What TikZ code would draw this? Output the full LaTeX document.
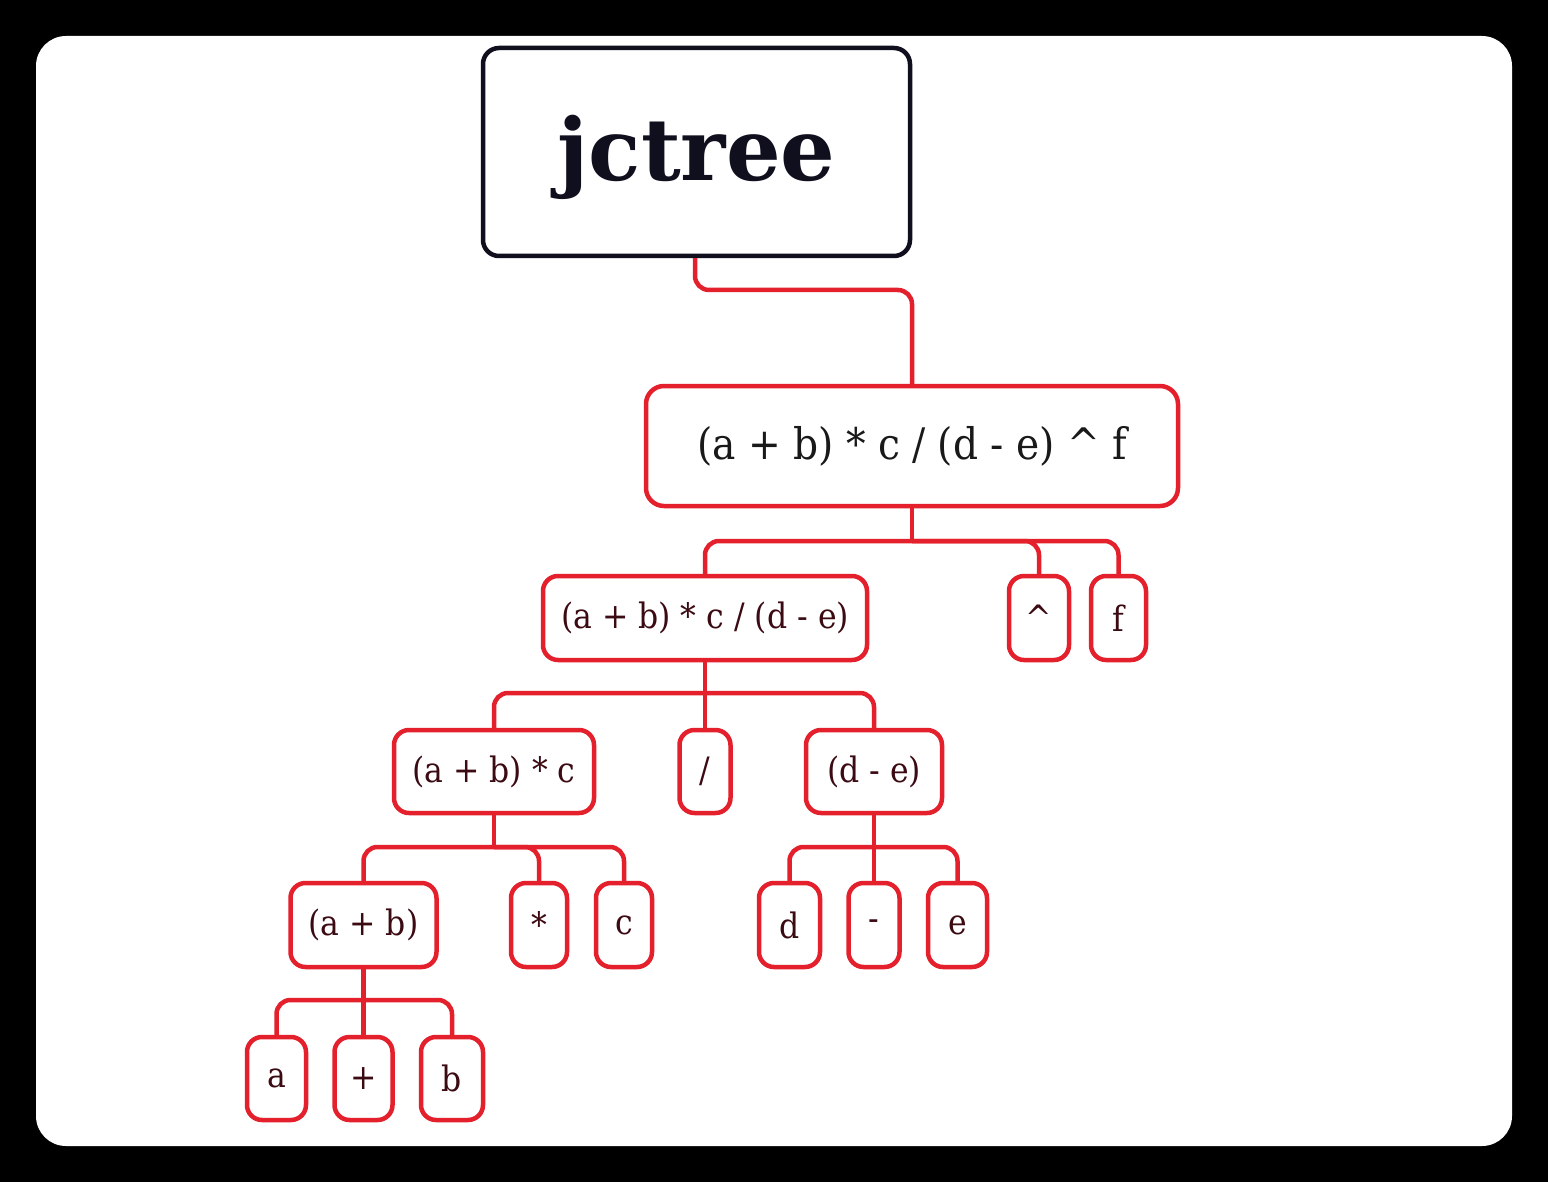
\documentclass[tikz,border=0pt]{standalone}
\usepackage{fontspec}
\setmainfont{DejaVu Serif Condensed}
\newfontfamily\titlefont{DejaVu Serif}
\definecolor{treered}{HTML}{E3202B}
\definecolor{labelink}{HTML}{3B0A12}
\definecolor{titleink}{HTML}{0F0F1E}
\tikzset{
  expr/.style={draw=treered, line width=4.5pt, rounded corners=15pt, fill=white,
    text=labelink, font=\fontsize{35}{42}\selectfont, minimum height=84pt, inner sep=0pt},
  link/.style={draw=treered, line width=4.5pt},
  elbow/.style={link, rounded corners=14pt}
}

\begin{document}
\begin{tikzpicture}[x=1pt, y=-1pt]
% frame
\fill[black] (0,0) rectangle (1548,1182);
\fill[white, rounded corners=30pt] (36,36) rectangle (1512,1146);

% title
\node[draw=titleink, line width=4.5pt, rounded corners=16pt, minimum width=427pt, minimum height=208pt,
  text=titleink, text depth=8pt, font=\titlefont\bfseries\fontsize{86}{90}\selectfont] (title) at (696.5,152) {jctree};

% the tree
\node[expr, rounded corners=18pt, minimum width=532pt, minimum height=120pt,
  font=\fontsize{43.5}{50}\selectfont, text=black!90] (root) at (912,446) {(a + b) * c / (d - e) \^{} f};

\node[expr, minimum width=324pt] (lhs) at (705,618) {(a + b) * c / (d - e)};
\node[expr, minimum width=60pt] (caret) at (1039,618) {\^{}};
\node[expr, minimum width=55pt] (fexp) at (1118.5,618) {f};

\node[expr, minimum width=200pt, minimum height=83pt] (mul) at (494,771.5) {(a + b) * c};
\node[expr, minimum width=51pt, minimum height=83pt] (div) at (705,771.5) {/};
\node[expr, minimum width=136pt, minimum height=83pt] (sub) at (874,771.5) {(d - e)};

\node[expr, minimum width=146pt] (ab) at (363.5,925) {(a + b)};
\node[expr, minimum width=56pt] (star) at (539,925) {*};
\node[expr, minimum width=56pt] (cvar) at (624,925) {c};
\node[expr, minimum width=61pt] (dvar) at (789.5,925) {d};
\node[expr, minimum width=51pt] (minus) at (874,925) {-};
\node[expr, minimum width=59pt] (evar) at (957.5,925) {e};

\node[expr, minimum width=59pt, minimum height=83pt] (avar) at (276.5,1078.5) {a};
\node[expr, minimum width=58pt, minimum height=83pt] (plus) at (363.5,1078.5) {+};
\node[expr, minimum width=62pt, minimum height=83pt] (bvar) at (452,1078.5) {b};

% connectors
\draw[elbow] (title.south -| 695,0) |- (root.north |- 0,290) -- (root.north);

\coordinate (jroot) at (root.south |- 0,541);
\coordinate (jlhs) at (lhs.south |- 0,693);
\coordinate (jmul) at (mul.south |- 0,847);
\coordinate (jsub) at (sub.south |- 0,847);
\coordinate (jab) at (ab.south |- 0,1000);

\draw[link] (root.south) -- (jroot);
\foreach \kid in {lhs,caret,fexp} \draw[elbow] (jroot) -| (\kid.north);
\draw[link] (lhs.south) -- (jlhs);
\foreach \kid in {mul,sub} \draw[elbow] (jlhs) -| (\kid.north);
\draw[link] (jlhs) -- (div.north);
\draw[link] (mul.south) -- (jmul);
\foreach \kid in {ab,star,cvar} \draw[elbow] (jmul) -| (\kid.north);
\draw[link] (sub.south) -- (jsub);
\foreach \kid in {dvar,evar} \draw[elbow] (jsub) -| (\kid.north);
\draw[link] (jsub) -- (minus.north);
\draw[link] (ab.south) -- (jab);
\foreach \kid in {avar,bvar} \draw[elbow] (jab) -| (\kid.north);
\draw[link] (jab) -- (plus.north);
\end{tikzpicture}
\end{document}
